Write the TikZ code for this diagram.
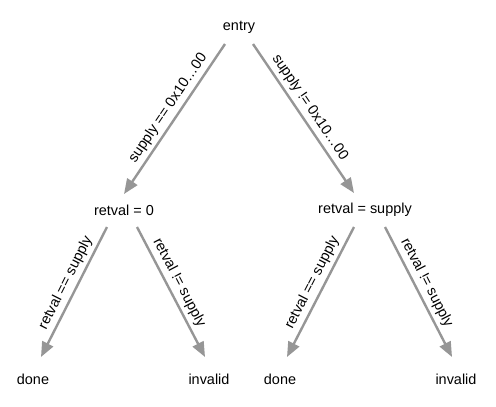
\documentclass[tikz,border=0pt]{standalone}
\usepackage{fontspec}
\setmainfont{Liberation Sans}
\usetikzlibrary{arrows.meta,calc}
\definecolor{edgegray}{RGB}{150,150,150}
\tikzset{
  lbl/.style={font=\fontsize{14.5}{16}\selectfont, inner sep=0pt},
  arr/.style={draw=edgegray, line width=2.4bp, -{Triangle[length=15bp,width=12bp]}},
  elab/.style={font=\fontsize{14.5}{16}\selectfont, sloped, above, inner sep=3.5bp, pos=0.47}
}
\begin{document}
\begin{tikzpicture}[x=1bp,y=-1bp]
\useasboundingbox (0,0) rectangle (496,406);
\node[lbl] (entry) at (239,27) {entry};
\node[lbl] (r0) at (124,210) {retval = 0};
\node[lbl] (rs) at (365,210) {retval = supply};
\node[lbl] (done1) at (33,379) {done};
\node[lbl] (inv1) at (209,379) {invalid};
\node[lbl] (done2) at (280,379) {done};
\node[lbl] (inv2) at (456,379) {invalid};

\draw[arr] ($(entry)+(-14,17)$) -- node[elab] {supply == 0x10…00} ($(r0)+(0,-16)$);
\draw[arr] ($(entry)+(14,17)$) -- node[elab] {supply != 0x10…00} ($(rs)+(-11,-17)$);
\draw[arr] ($(r0)+(-17,17)$) -- node[elab] {retval == supply} ($(done1)+(8,-22)$);
\draw[arr] ($(r0)+(13,17)$) -- node[elab] {retval != supply} ($(inv1)+(-4,-22)$);
\draw[arr] ($(rs)+(-11,17)$) -- node[elab] {retval == supply} ($(done2)+(7,-22)$);
\draw[arr] ($(rs)+(20,17)$) -- node[elab] {retval != supply} ($(inv2)+(-4,-22)$);
\end{tikzpicture}
\end{document}
